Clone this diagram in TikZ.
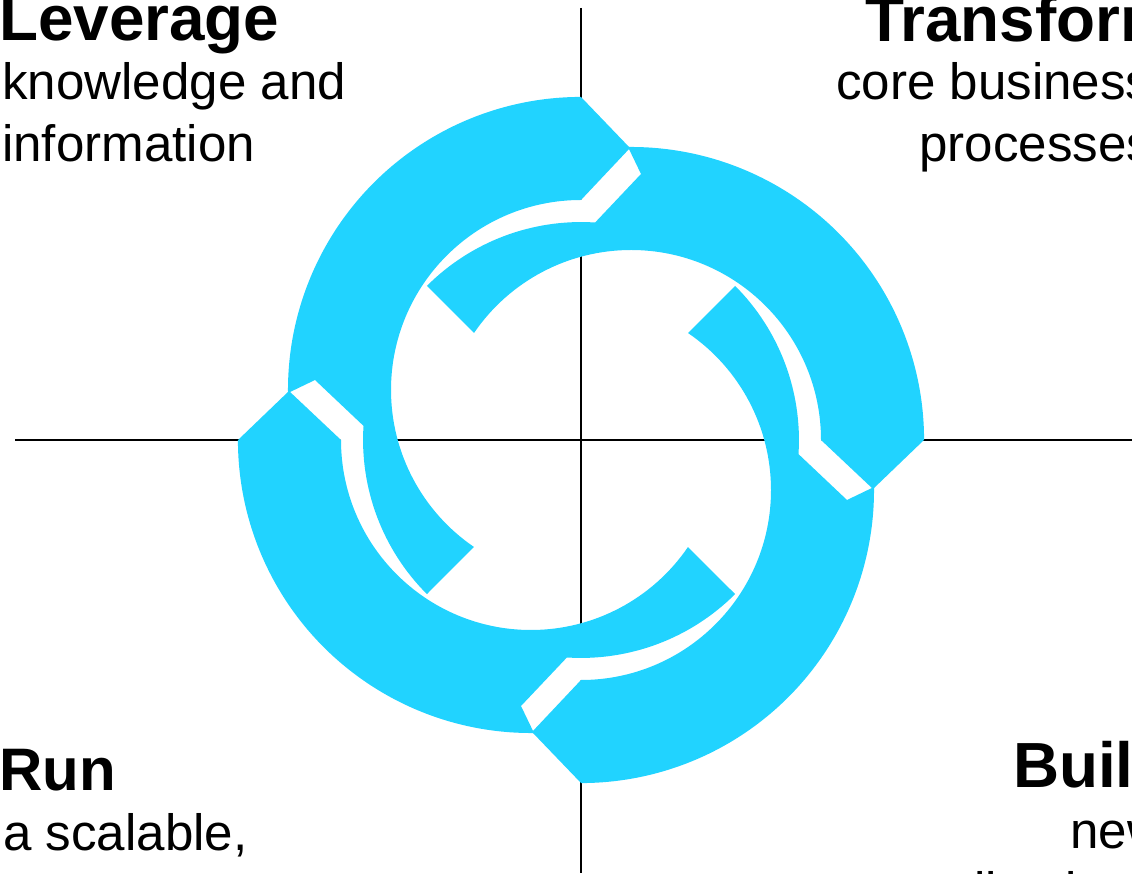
\documentclass[tikz,border=0pt]{standalone}
\usepackage{fontspec}
\setmainfont{Liberation Sans}
\definecolor{arrowblue}{RGB}{33,211,255}
\tikzset{
  axis/.style={line width=2pt,black},
  ttl/.style={anchor=base west,inner sep=0pt,font=\fontsize{63.8}{75}\selectfont\bfseries},
  runttl/.style={anchor=base west,inner sep=0pt,font=\fontsize{60}{70}\selectfont\bfseries},
  body/.style={anchor=base west,inner sep=0pt,font=\fontsize{51.1}{62}\selectfont},
  gapfill/.style={fill=white},
  arrowfill/.style={fill=arrowblue},
}
\begin{document}
\begin{tikzpicture}[x=1pt,y=1pt]
\useasboundingbox (0,0) rectangle (1132,873);
\clip (0,0) rectangle (1132,873);
\fill[white] (0,0) rectangle (1132,873);
% centre and axes
\coordinate (O) at (581,433);
\coordinate (axL) at (15,433);
\coordinate (axR) at (1132,433);
\coordinate (axT) at (581,865);
\coordinate (axB) at (581,0);
\draw[axis] (axL) -- (axR);
\draw[axis] (axT) -- (axB);
% white gaps between consecutive arrows
\foreach \r in {0,-90,-180,90}{
  \begin{scope}[shift={(O)},rotate=\r]
    \path[gapfill] (0,240) -- (49,292) -- (60,266) -- (14.07,217.55)
      arc[start angle=86.3,end angle=135,radius=218] -- (-157.7,156)
      arc[start angle=146.1,end angle=90,radius=190] -- cycle;
  \end{scope}
}
% the four arrows
\foreach \r in {0,-90,-180,90}{
  \begin{scope}[shift={(O)},rotate=\r]
    \path[arrowfill] (343,0) -- (292,-49) -- (240,0)
      arc[start angle=0,end angle=145.7,radius=190] -- (-154.1,154.1)
      arc[start angle=135,end angle=86.3,radius=218] -- (60,266) -- (47,293)
      arc[start angle=90.6,end angle=0,radius=293] -- cycle;
  \end{scope}
}
% texts
\node[ttl]  (lev)  at (-1,832) {Leverage};
\node[body] (lev1) at (2,773) {knowledge and};
\node[body] (lev2) at (2,711) {information};
\node[ttl]  (tra)  at (865,831.5) {Transform};
\node[body] (tra1) at (836,773) {core business};
\node[body] (tra2) at (919,711) {processes};
\node[runttl] (run) at (-1,83) {Run};
\node[body] (run1) at (3,23) {a scalable,};
\node[ttl]  (bui)  at (1013,86) {Build};
\node[body] (bui1) at (1070,25) {new};
\node[body] (bui2) at (889,-35) {applications};
\end{tikzpicture}
\end{document}
